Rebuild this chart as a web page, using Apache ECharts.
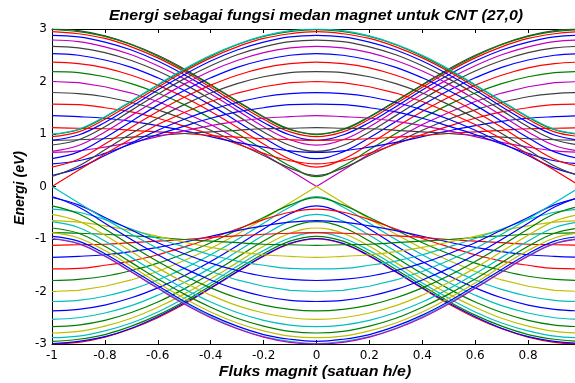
<!DOCTYPE html>
<html><head><meta charset="utf-8">
<script src="https://cdn.jsdelivr.net/npm/echarts/dist/echarts.min.js"></script>
<style>html,body{margin:0;padding:0;background:#fff}#c{width:575px;height:383px}</style>
</head><body><div id="c"></div>
<script>
// Flux samples (h/e units)
const flux = [-1,-0.9,-0.8,-0.7,-0.6,-0.5,-0.4,-0.3,-0.2,-0.1,0,0.1,0.2,0.3,0.4,0.5,0.6,0.7,0.8,0.9,1];
const xTickLabels = ['-1','-0.8','-0.6','-0.4','-0.2','0','0.2','0.4','0.6','0.8','1'];
const yTickLabels = ['-3','-2','-1','0','1','2','3'];

// Conduction subbands (eV), one row per subband, read at each flux sample
const upperBands = [
[3.00,2.97,2.87,2.71,2.50,2.24,1.94,1.63,1.33,1.09,1.00,1.09,1.33,1.63,1.94,2.24,2.50,2.71,2.87,2.97,3.00],
[2.99,2.95,2.86,2.70,2.48,2.22,1.93,1.62,1.32,1.08,0.99,1.08,1.32,1.62,1.93,2.22,2.48,2.70,2.86,2.95,2.99],
[2.95,2.91,2.82,2.66,2.45,2.19,1.89,1.58,1.28,1.04,0.95,1.04,1.28,1.58,1.89,2.19,2.45,2.66,2.82,2.91,2.95],
[2.88,2.85,2.75,2.60,2.39,2.13,1.84,1.52,1.22,0.98,0.88,0.98,1.22,1.52,1.84,2.13,2.39,2.60,2.75,2.85,2.88],
[2.79,2.76,2.66,2.51,2.30,2.05,1.76,1.45,1.14,0.89,0.79,0.89,1.14,1.45,1.76,2.05,2.30,2.51,2.66,2.76,2.79],
[2.67,2.64,2.55,2.40,2.20,1.95,1.66,1.35,1.04,0.78,0.67,0.78,1.04,1.35,1.66,1.95,2.20,2.40,2.55,2.64,2.67],
[2.53,2.50,2.41,2.27,2.07,1.83,1.55,1.24,0.93,0.66,0.53,0.66,0.93,1.24,1.55,1.83,2.07,2.27,2.41,2.50,2.53],
[2.37,2.34,2.26,2.12,1.93,1.70,1.43,1.13,0.81,0.52,0.37,0.52,0.81,1.13,1.43,1.70,1.93,2.12,2.26,2.34,2.37],
[2.19,2.17,2.09,1.96,1.78,1.56,1.30,1.01,0.70,0.39,0.19,0.39,0.70,1.01,1.30,1.56,1.78,1.96,2.09,2.17,2.19],
[2.00,1.98,1.90,1.78,1.62,1.41,1.18,0.91,0.62,0.31,0.00,0.31,0.62,0.91,1.18,1.41,1.62,1.78,1.90,1.98,2.00],
[1.79,1.77,1.71,1.60,1.46,1.28,1.07,0.83,0.59,0.35,0.21,0.35,0.59,0.83,1.07,1.28,1.46,1.60,1.71,1.77,1.79],
[1.57,1.56,1.50,1.42,1.30,1.15,0.99,0.81,0.63,0.49,0.43,0.49,0.63,0.81,0.99,1.15,1.30,1.42,1.50,1.56,1.57],
[1.35,1.33,1.30,1.24,1.16,1.06,0.95,0.84,0.75,0.68,0.65,0.68,0.75,0.84,0.95,1.06,1.16,1.24,1.30,1.33,1.35],
[1.12,1.11,1.10,1.07,1.04,1.01,0.97,0.94,0.91,0.89,0.88,0.89,0.91,0.94,0.97,1.01,1.04,1.07,1.10,1.11,1.12],
[0.88,0.89,0.91,0.94,0.97,1.01,1.04,1.07,1.10,1.11,1.12,1.11,1.10,1.07,1.04,1.01,0.97,0.94,0.91,0.89,0.88],
[0.65,0.68,0.75,0.84,0.95,1.06,1.16,1.24,1.30,1.33,1.35,1.33,1.30,1.24,1.16,1.06,0.95,0.84,0.75,0.68,0.65],
[0.43,0.49,0.63,0.81,0.99,1.15,1.30,1.42,1.50,1.56,1.57,1.56,1.50,1.42,1.30,1.15,0.99,0.81,0.63,0.49,0.43],
[0.21,0.35,0.59,0.83,1.07,1.28,1.46,1.60,1.71,1.77,1.79,1.77,1.71,1.60,1.46,1.28,1.07,0.83,0.59,0.35,0.21],
[0.00,0.31,0.62,0.91,1.18,1.41,1.62,1.78,1.90,1.98,2.00,1.98,1.90,1.78,1.62,1.41,1.18,0.91,0.62,0.31,0.00],
[0.19,0.39,0.70,1.01,1.30,1.56,1.78,1.96,2.09,2.17,2.19,2.17,2.09,1.96,1.78,1.56,1.30,1.01,0.70,0.39,0.19],
[0.37,0.52,0.81,1.13,1.43,1.70,1.93,2.12,2.26,2.34,2.37,2.34,2.26,2.12,1.93,1.70,1.43,1.13,0.81,0.52,0.37],
[0.53,0.66,0.93,1.24,1.55,1.83,2.07,2.27,2.41,2.50,2.53,2.50,2.41,2.27,2.07,1.83,1.55,1.24,0.93,0.66,0.53],
[0.67,0.78,1.04,1.35,1.66,1.95,2.20,2.40,2.55,2.64,2.67,2.64,2.55,2.40,2.20,1.95,1.66,1.35,1.04,0.78,0.67],
[0.79,0.89,1.14,1.45,1.76,2.05,2.30,2.51,2.66,2.76,2.79,2.76,2.66,2.51,2.30,2.05,1.76,1.45,1.14,0.89,0.79],
[0.88,0.98,1.22,1.52,1.84,2.13,2.39,2.60,2.75,2.85,2.88,2.85,2.75,2.60,2.39,2.13,1.84,1.52,1.22,0.98,0.88],
[0.95,1.04,1.28,1.58,1.89,2.19,2.45,2.66,2.82,2.91,2.95,2.91,2.82,2.66,2.45,2.19,1.89,1.58,1.28,1.04,0.95],
[0.99,1.08,1.32,1.62,1.93,2.22,2.48,2.70,2.86,2.95,2.99,2.95,2.86,2.70,2.48,2.22,1.93,1.62,1.32,1.08,0.99],
[1.00,1.09,1.33,1.63,1.94,2.24,2.50,2.71,2.87,2.97,3.00,2.97,2.87,2.71,2.50,2.24,1.94,1.63,1.33,1.09,1.00]
];

// Valence subbands (eV)
const lowerBands = [
[-3.00,-2.97,-2.87,-2.71,-2.50,-2.24,-1.94,-1.63,-1.33,-1.09,-1.00,-1.09,-1.33,-1.63,-1.94,-2.24,-2.50,-2.71,-2.87,-2.97,-3.00],
[-2.99,-2.95,-2.86,-2.70,-2.48,-2.22,-1.93,-1.62,-1.32,-1.08,-0.99,-1.08,-1.32,-1.62,-1.93,-2.22,-2.48,-2.70,-2.86,-2.95,-2.99],
[-2.95,-2.91,-2.82,-2.66,-2.45,-2.19,-1.89,-1.58,-1.28,-1.04,-0.95,-1.04,-1.28,-1.58,-1.89,-2.19,-2.45,-2.66,-2.82,-2.91,-2.95],
[-2.88,-2.85,-2.75,-2.60,-2.39,-2.13,-1.84,-1.52,-1.22,-0.98,-0.88,-0.98,-1.22,-1.52,-1.84,-2.13,-2.39,-2.60,-2.75,-2.85,-2.88],
[-2.79,-2.76,-2.66,-2.51,-2.30,-2.05,-1.76,-1.45,-1.14,-0.89,-0.79,-0.89,-1.14,-1.45,-1.76,-2.05,-2.30,-2.51,-2.66,-2.76,-2.79],
[-2.67,-2.64,-2.55,-2.40,-2.20,-1.95,-1.66,-1.35,-1.04,-0.78,-0.67,-0.78,-1.04,-1.35,-1.66,-1.95,-2.20,-2.40,-2.55,-2.64,-2.67],
[-2.53,-2.50,-2.41,-2.27,-2.07,-1.83,-1.55,-1.24,-0.93,-0.66,-0.53,-0.66,-0.93,-1.24,-1.55,-1.83,-2.07,-2.27,-2.41,-2.50,-2.53],
[-2.37,-2.34,-2.26,-2.12,-1.93,-1.70,-1.43,-1.13,-0.81,-0.52,-0.37,-0.52,-0.81,-1.13,-1.43,-1.70,-1.93,-2.12,-2.26,-2.34,-2.37],
[-2.19,-2.17,-2.09,-1.96,-1.78,-1.56,-1.30,-1.01,-0.70,-0.39,-0.19,-0.39,-0.70,-1.01,-1.30,-1.56,-1.78,-1.96,-2.09,-2.17,-2.19],
[-2.00,-1.98,-1.90,-1.78,-1.62,-1.41,-1.18,-0.91,-0.62,-0.31,0.00,-0.31,-0.62,-0.91,-1.18,-1.41,-1.62,-1.78,-1.90,-1.98,-2.00],
[-1.79,-1.77,-1.71,-1.60,-1.46,-1.28,-1.07,-0.83,-0.59,-0.35,-0.21,-0.35,-0.59,-0.83,-1.07,-1.28,-1.46,-1.60,-1.71,-1.77,-1.79],
[-1.57,-1.56,-1.50,-1.42,-1.30,-1.15,-0.99,-0.81,-0.63,-0.49,-0.43,-0.49,-0.63,-0.81,-0.99,-1.15,-1.30,-1.42,-1.50,-1.56,-1.57],
[-1.35,-1.33,-1.30,-1.24,-1.16,-1.06,-0.95,-0.84,-0.75,-0.68,-0.65,-0.68,-0.75,-0.84,-0.95,-1.06,-1.16,-1.24,-1.30,-1.33,-1.35],
[-1.12,-1.11,-1.10,-1.07,-1.04,-1.01,-0.97,-0.94,-0.91,-0.89,-0.88,-0.89,-0.91,-0.94,-0.97,-1.01,-1.04,-1.07,-1.10,-1.11,-1.12],
[-0.88,-0.89,-0.91,-0.94,-0.97,-1.01,-1.04,-1.07,-1.10,-1.11,-1.12,-1.11,-1.10,-1.07,-1.04,-1.01,-0.97,-0.94,-0.91,-0.89,-0.88],
[-0.65,-0.68,-0.75,-0.84,-0.95,-1.06,-1.16,-1.24,-1.30,-1.33,-1.35,-1.33,-1.30,-1.24,-1.16,-1.06,-0.95,-0.84,-0.75,-0.68,-0.65],
[-0.43,-0.49,-0.63,-0.81,-0.99,-1.15,-1.30,-1.42,-1.50,-1.56,-1.57,-1.56,-1.50,-1.42,-1.30,-1.15,-0.99,-0.81,-0.63,-0.49,-0.43],
[-0.21,-0.35,-0.59,-0.83,-1.07,-1.28,-1.46,-1.60,-1.71,-1.77,-1.79,-1.77,-1.71,-1.60,-1.46,-1.28,-1.07,-0.83,-0.59,-0.35,-0.21],
[0.00,-0.31,-0.62,-0.91,-1.18,-1.41,-1.62,-1.78,-1.90,-1.98,-2.00,-1.98,-1.90,-1.78,-1.62,-1.41,-1.18,-0.91,-0.62,-0.31,0.00],
[-0.19,-0.39,-0.70,-1.01,-1.30,-1.56,-1.78,-1.96,-2.09,-2.17,-2.19,-2.17,-2.09,-1.96,-1.78,-1.56,-1.30,-1.01,-0.70,-0.39,-0.19],
[-0.37,-0.52,-0.81,-1.13,-1.43,-1.70,-1.93,-2.12,-2.26,-2.34,-2.37,-2.34,-2.26,-2.12,-1.93,-1.70,-1.43,-1.13,-0.81,-0.52,-0.37],
[-0.53,-0.66,-0.93,-1.24,-1.55,-1.83,-2.07,-2.27,-2.41,-2.50,-2.53,-2.50,-2.41,-2.27,-2.07,-1.83,-1.55,-1.24,-0.93,-0.66,-0.53],
[-0.67,-0.78,-1.04,-1.35,-1.66,-1.95,-2.20,-2.40,-2.55,-2.64,-2.67,-2.64,-2.55,-2.40,-2.20,-1.95,-1.66,-1.35,-1.04,-0.78,-0.67],
[-0.79,-0.89,-1.14,-1.45,-1.76,-2.05,-2.30,-2.51,-2.66,-2.76,-2.79,-2.76,-2.66,-2.51,-2.30,-2.05,-1.76,-1.45,-1.14,-0.89,-0.79],
[-0.88,-0.98,-1.22,-1.52,-1.84,-2.13,-2.39,-2.60,-2.75,-2.85,-2.88,-2.85,-2.75,-2.60,-2.39,-2.13,-1.84,-1.52,-1.22,-0.98,-0.88],
[-0.95,-1.04,-1.28,-1.58,-1.89,-2.19,-2.45,-2.66,-2.82,-2.91,-2.95,-2.91,-2.82,-2.66,-2.45,-2.19,-1.89,-1.58,-1.28,-1.04,-0.95],
[-0.99,-1.08,-1.32,-1.62,-1.93,-2.22,-2.48,-2.70,-2.86,-2.95,-2.99,-2.95,-2.86,-2.70,-2.48,-2.22,-1.93,-1.62,-1.32,-1.08,-0.99],
[-1.00,-1.09,-1.33,-1.63,-1.94,-2.24,-2.50,-2.71,-2.87,-2.97,-3.00,-2.97,-2.87,-2.71,-2.50,-2.24,-1.94,-1.63,-1.33,-1.09,-1.00]
];

const B='#0000ff',G='#008000',R='#ff0000',C='#00bfbf',M='#bf00bf',Y='#bfbf00',K='#404040';
const upperColors = [K,G,R,B,M,K,B,R,G,M,K,R,B,R, K,M,B,B,R,K,R,B,M,K,B,R,G,C];
const lowerColors = [R,B,G,C,Y,G,C,B,C,Y,G,R,B,R, G,Y,C,B,C,B,G,Y,C,G,Y,B,C,M];
const sharpRows = [9,18];

const FONT = '"Liberation Sans", Arial, Helvetica, sans-serif';
const TICKFONT = '"DejaVu Sans", "Liberation Sans", Arial, sans-serif';
function mk(arr, color, sharp){
  return {type:'line', data: flux.map((x,j)=>[x,arr[j]]), showSymbol:false, symbol:'none',
    smooth: sharp ? false : 0.4, lineStyle:{width:1.2,color:color}, itemStyle:{color:color},
    silent:true, animation:false, clip:true, emphasis:{disabled:true}};
}
const series = [];
upperBands.forEach((a,i)=>series.push(mk(a, upperColors[i], sharpRows.includes(i))));
lowerBands.forEach((a,i)=>series.push(mk(a, lowerColors[i], sharpRows.includes(i))));

const chart = echarts.init(document.getElementById('c'), null, {renderer:'canvas'});
const axisCommon = {
  type:'value', splitLine:{show:false},
  axisLine:{show:true,onZero:false,lineStyle:{color:'#000',width:1}},
  axisTick:{show:true,inside:true,length:4,lineStyle:{color:'#000',width:1}}
};
chart.setOption({
  animation:false,
  backgroundColor:'#fff',
  grid:{left:52,right:-6,top:29,bottom:39,containLabel:false,outerBoundsMode:'none'},
  xAxis:[
    Object.assign({}, axisCommon, {min:-1,max:1,interval:0.2,position:'bottom',
      axisLabel:{color:'#000',fontSize:12,fontFamily:TICKFONT,margin:6,hideOverlap:false,
        formatter:v=>{const i=Math.round((v+1)/0.2);return xTickLabels[i]||'';}}}),
    Object.assign({}, axisCommon, {min:-1,max:1,interval:0.2,position:'top',axisLabel:{show:false}})
  ],
  yAxis:[
    Object.assign({}, axisCommon, {min:-3,max:3,interval:1,position:'left',
      axisLabel:{color:'#000',fontSize:12,fontFamily:TICKFONT,margin:5,
        formatter:v=>{const i=Math.round(v+3);return yTickLabels[i]||'';}}})
  ],
  graphic:[
    {type:'text',x:316,y:16.5,scaleX:1.14,silent:true,style:{text:'Energi sebagai fungsi medan magnet untuk CNT (27,0)',
      font:'italic bold 14px '+FONT,fill:'#000',align:'center',verticalAlign:'middle',textAlign:'center',textVerticalAlign:'middle'}},
    {type:'text',x:315,y:372,scaleX:1.14,silent:true,style:{text:'Fluks magnit (satuan h/e)',
      font:'italic bold 14px '+FONT,fill:'#000',align:'center',verticalAlign:'middle',textAlign:'center',textVerticalAlign:'middle'}},
    {type:'text',x:20,y:188,rotation:Math.PI/2,silent:true,style:{text:'Energi (eV)',
      font:'italic bold 14px '+FONT,fill:'#000',align:'center',verticalAlign:'middle',textAlign:'center',textVerticalAlign:'middle'}}
  ],
  series:series
});
</script>
</body></html>
